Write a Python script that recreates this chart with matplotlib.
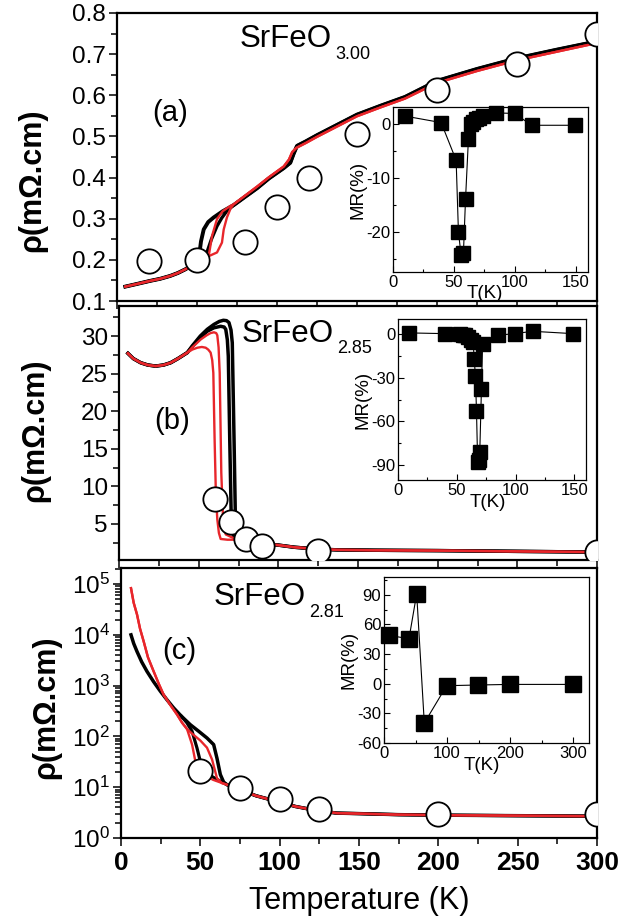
import numpy as np
import matplotlib
matplotlib.use('Agg')
import matplotlib.pyplot as plt
from matplotlib.ticker import MultipleLocator, LogLocator, NullFormatter

plt.rcParams['font.family'] = ['Liberation Sans', 'DejaVu Sans']
plt.rcParams['mathtext.fontset'] = 'custom'
plt.rcParams['mathtext.rm'] = 'Liberation Sans'
plt.rcParams['mathtext.default'] = 'regular'
plt.rcParams['axes.unicode_minus'] = False

RED = '#e8262b'

# ---------------- panel (a) SrFeO3.00 ----------------
Ta_circ = [20, 50, 80, 100, 120, 150, 200, 250, 300]
ra_circ = [0.198, 0.200, 0.243, 0.329, 0.398, 0.507, 0.612, 0.677, 0.748]

Ta_low = [5.2, 12, 20.8, 27, 33.3, 38, 42.7, 47, 50]
ra_low = [0.135, 0.141, 0.149, 0.154, 0.161, 0.168, 0.177, 0.187, 0.197]
# transitions (two black, two red sweeps)
Ta_blk1 = [51.5, 52.5, 54.2, 57, 60.4, 66]
ra_blk1 = [0.215, 0.245, 0.274, 0.292, 0.303, 0.318]
Ta_blk2 = [53, 56.2, 59, 62.5, 65.5, 68.7]
ra_blk2 = [0.205, 0.218, 0.250, 0.282, 0.302, 0.319]
Ta_red1 = [54, 57.3, 59.4, 62.5, 66, 70.8]
ra_red1 = [0.203, 0.209, 0.258, 0.299, 0.318, 0.331]
Ta_red2 = [56.2, 62.5, 65.6, 66.7, 68.7, 71]
ra_red2 = [0.207, 0.218, 0.242, 0.274, 0.303, 0.325]
Ta_blk_high = [72.9, 80, 87.5, 95, 104.2, 108.3, 110.4, 112.5, 118, 125, 133, 150, 165, 180, 200, 225, 250, 275, 300]
ra_blk_high = [0.333, 0.353, 0.374, 0.398, 0.423, 0.436, 0.458, 0.477, 0.488, 0.503, 0.519, 0.553, 0.575, 0.596, 0.635, 0.664, 0.690, 0.711, 0.731]
Ta_red_high = [72.9, 80, 87.5, 95, 104.2, 107.5, 109.5, 112, 118, 125, 133, 150, 165, 180, 200, 225, 250, 275, 300]
ra_red_high = [0.335, 0.356, 0.378, 0.401, 0.427, 0.444, 0.462, 0.472, 0.484, 0.499, 0.515, 0.549, 0.571, 0.592, 0.630, 0.659, 0.685, 0.706, 0.727]

Ta_in = [10.1, 39.5, 51.8, 53.7, 55.9, 57.8, 59.5, 61.9, 64.1, 65.5, 68.2, 70.9, 73.6, 84.6, 99.8, 113.7, 149.5]
MRa_in = [1.5, 0.3, -6.7, -20.1, -24.4, -23.9, -14.0, -2.7, 0.1, 0.4, 0.9, 1.2, 1.5, 2.1, 2.0, -0.2, -0.2]

# ---------------- panel (b) SrFeO2.85 ----------------
Tb_circ = [60, 70, 80, 90, 125, 300]
rb_circ = [8.3, 5.2, 3.0, 2.0, 1.45, 1.3]

Tb_low = [5.6, 9, 13.6, 18, 23, 28, 32.4, 37, 42.9]
rb_low = [27.7, 27.0, 26.45, 26.15, 26.0, 26.15, 26.45, 27.0, 27.8]
Tb_red1 = [46, 49.2, 52, 54.4, 56, 57.5, 58.5, 59.2, 60, 60.8, 61.7, 62.7, 63.8, 68, 73]
rb_red1 = [28.2, 28.45, 28.55, 28.45, 28.2, 27.8, 26.8, 25.1, 16.3, 9, 5.6, 3.8, 3.0, 2.9, 2.9]
Tb_red2 = [46, 51.3, 55, 57.5, 59.6, 61, 61.7, 62.5, 63.2, 64.2, 65.5, 67, 72]
rb_red2 = [28.5, 29.55, 30.1, 30.4, 30.5, 30.4, 30.1, 28.5, 25.1, 11.8, 4.7, 3.6, 3.1]
Tb_blk1 = [46, 51, 55.4, 59.6, 63.8, 66, 67, 68, 68.6, 69.5, 70.5, 71.8]
rb_blk1 = [28.6, 29.8, 30.65, 31.1, 31.3, 31.2, 30.9, 29.5, 27.3, 16.3, 5.2, 3.4]
Tb_blk2 = [46, 51, 55.4, 59.6, 63, 65.5, 67.5, 69, 70.3, 71.1, 72.2, 73.2, 74.3]
rb_blk2 = [28.7, 30.0, 30.9, 31.55, 31.95, 32.1, 32.05, 31.8, 30.8, 29.1, 16.3, 3.85, 3.0]
Tb_high = [78.4, 82.6, 90, 99.4, 110, 124.5, 137, 160, 200, 250, 300]
rb_high = [2.7, 2.45, 2.3, 2.2, 1.9, 1.65, 1.55, 1.5, 1.45, 1.35, 1.25]

Tb_in = [9.4, 39.8, 52.6, 55, 57, 59.5, 62, 64, 64.8, 65.9, 66.8, 67.8, 69.2, 69.6, 71, 72, 84.7, 99.4, 114.5, 149]
MRb_in = [0.5, 0, -0.3, -0.6, -1.1, -2.5, -4.5, -6, -17, -29, -53, -88, -86, -81, -38, -6.8, -1.1, 0, 1.6, 0]

# ---------------- panel (c) SrFeO2.81 ----------------
Tc_circ = [50, 75, 100, 125, 200, 300]
rc_circ = [21, 9.8, 5.8, 3.67, 2.93, 2.93]

Tc_red = [6.3, 8, 10.1, 12, 14.3, 17, 20.6, 24, 26.9, 31, 35.3, 38.5, 41.6]
rc_red = [83000, 42700, 25100, 13200, 7400, 3600, 1900, 1050, 660, 420, 270, 186, 140]
Tc_red1 = [44.8, 46.9, 49, 53, 58, 63]
rc_red1 = [69, 32, 24, 17, 14, 12.3]
Tc_red2 = [45, 50, 54.2, 57.4, 60.5, 63.6]
rc_red2 = [112, 83, 60, 35, 15, 12]
Tc_blk = [6.3, 8, 10.1, 13, 16.4, 20.5, 24.8, 29, 33.2, 38, 43.7, 49, 54.2, 58.4, 60.5, 62.6, 64.7]
rc_blk = [10000, 6760, 4680, 2950, 1900, 1200, 776, 525, 363, 251, 170, 126, 93, 69, 37, 17.8, 12.6]
Tc_blk2 = [38, 41.5, 44.8, 47.9, 50, 52.5, 55.3, 60, 64]
rc_blk2 = [251, 186, 126, 59, 32, 24, 17.8, 14.5, 12.5]
Tc_high = [66.8, 75.2, 85, 98.3, 110, 123.5, 136, 150, 175, 200, 250, 300]
rc_high = [11.2, 8.9, 6.8, 5.25, 4.17, 3.47, 3.09, 3.02, 2.88, 2.82, 2.75, 2.69]

Tc_in = [8.5, 39.6, 51.8, 63.9, 99.3, 149.5, 199.7, 300]
MRc_in = [48.9, 45.5, 91, -39.8, -2, -1.3, -0.7, -0.7]

W, H = 631, 916
fig = plt.figure(figsize=(W / 100, H / 100), dpi=100)


def rect(l, t, r, b):
    return [l / W, 1 - b / H, (r - l) / W, (b - t) / H]


def style_main(ax, labels_x):
    for s in ax.spines.values():
        s.set_linewidth(1.6)
    ax.set_xlim(0, 300)
    ax.xaxis.set_major_locator(MultipleLocator(50))
    ax.xaxis.set_minor_locator(MultipleLocator(25))
    ax.tick_params(which='both', direction='out', width=1.1, labelsize=17.5, pad=2)
    ax.tick_params(which='major', length=6)
    ax.tick_params(which='minor', length=4)
    if not labels_x:
        ax.tick_params(axis='x', labelbottom=False)
    ax.set_ylabel('ρ(mΩ.cm)', fontsize=22, fontweight='bold')


def style_inset(ax):
    for s in ax.spines.values():
        s.set_linewidth(0.9)
    ax.tick_params(which='both', direction='in', width=0.8, labelsize=12, pad=2)
    ax.tick_params(which='major', length=4)
    ax.tick_params(which='minor', length=2.5)
    ax.set_xlabel('T(K)', fontsize=13.5)
    ax.set_ylabel('MR(%)', fontsize=13.5, labelpad=0)


circ_kw = dict(marker='o', ls='none', ms=17.5, mfc='white', mec='black', mew=1.3, zorder=5)
sq_kw = dict(marker='s', color='black', ms=10, lw=0.8, clip_on=False)

# ---- (a)
ax = fig.add_axes(rect(117, 13, 597, 301))
ax.plot(Ta_low + Ta_blk1 + Ta_blk_high, ra_low + ra_blk1 + ra_blk_high, color='black', lw=2.8)
ax.plot(Ta_low + Ta_blk2 + Ta_blk_high, ra_low + ra_blk2 + ra_blk_high, color='black', lw=2.4)
ax.plot(Ta_low + Ta_red1 + Ta_red_high, ra_low + ra_red1 + ra_red_high, color=RED, lw=1.7)
ax.plot(Ta_low + Ta_red2 + Ta_red_high, ra_low + ra_red2 + ra_red_high, color=RED, lw=1.7)
ax.plot(Ta_circ, ra_circ, **circ_kw)
ax.set_ylim(0.1, 0.8)
ax.yaxis.set_major_locator(MultipleLocator(0.1))
ax.yaxis.set_minor_locator(MultipleLocator(0.05))
ax.yaxis.set_major_formatter(plt.FormatStrFormatter('%.1f'))
style_main(ax, False)
ax.yaxis.set_label_coords(-0.146, 0.42)

ia = fig.add_axes(rect(393, 107, 588, 272))
ia.plot(Ta_in, MRa_in, **sq_kw)
ia.set_xlim(0, 160)
ia.set_ylim(-27.5, 3.2)
ia.xaxis.set_major_locator(MultipleLocator(50))
ia.xaxis.set_minor_locator(MultipleLocator(25))
ia.yaxis.set_major_locator(MultipleLocator(10))
ia.yaxis.set_minor_locator(MultipleLocator(5))
style_inset(ia)
ia.xaxis.set_label_coords(0.47, -0.08)

# ---- (b)
bx = fig.add_axes(rect(119, 306, 597, 560))
bx.plot(Tb_low + Tb_blk1 + Tb_high, rb_low + rb_blk1 + rb_high, color='black', lw=2.5)
bx.plot(Tb_low + Tb_blk2 + Tb_high, rb_low + rb_blk2 + rb_high, color='black', lw=2.5)
bx.plot(Tb_low + Tb_red1 + Tb_high, rb_low + rb_red1 + rb_high, color=RED, lw=1.7)
bx.plot(Tb_low + Tb_red2 + Tb_high, rb_low + rb_red2 + rb_high, color=RED, lw=1.7)
bx.plot(Tb_circ, rb_circ, **circ_kw)
bx.set_ylim(0.2, 34)
bx.yaxis.set_major_locator(MultipleLocator(5))
bx.yaxis.set_minor_locator(MultipleLocator(2.5))
style_main(bx, False)
bx.yaxis.set_label_coords(-0.144, 0.51)

ib = fig.add_axes(rect(398, 319, 586, 480))
ib.plot(Tb_in, MRb_in, **sq_kw)
ib.set_xlim(0, 160)
ib.set_ylim(-100, 10)
ib.xaxis.set_major_locator(MultipleLocator(50))
ib.xaxis.set_minor_locator(MultipleLocator(25))
ib.yaxis.set_major_locator(MultipleLocator(30))
ib.yaxis.set_minor_locator(MultipleLocator(15))
style_inset(ib)
ib.xaxis.set_label_coords(0.48, -0.09)

# ---- (c)
cx = fig.add_axes(rect(121, 568, 597, 838))
cx.plot(Tc_blk + Tc_high, rc_blk + rc_high, color='black', lw=2.5)
cx.plot(Tc_blk2 + Tc_high, rc_blk2 + rc_high, color='black', lw=2.3)
cx.plot(Tc_red + Tc_red1 + Tc_high, rc_red + rc_red1 + rc_high, color=RED, lw=1.7)
cx.plot(Tc_red + Tc_red2 + Tc_high, rc_red + rc_red2 + rc_high, color=RED, lw=1.7)
cx.plot(Tc_circ, rc_circ, **circ_kw)
cx.set_yscale('log')
cx.set_ylim(1, 2.07e5)
cx.yaxis.set_major_locator(LogLocator(base=10, numticks=10))
cx.yaxis.set_minor_locator(LogLocator(base=10, subs=np.arange(2, 10), numticks=20))
cx.yaxis.set_minor_formatter(NullFormatter())
style_main(cx, True)
cx.yaxis.set_label_coords(-0.126, 0.485)
for t in cx.get_xticklabels():
    t.set_fontweight('bold')
cx.tick_params(axis='x', labelsize=19, pad=3)
cx.set_xlabel('Temperature (K)', fontsize=22, labelpad=8)

ic = fig.add_axes(rect(384, 577, 589, 743))
ic.plot(Tc_in, MRc_in, **dict(sq_kw, ms=11))
ic.set_xlim(0, 325)
ic.set_ylim(-60, 108)
ic.xaxis.set_major_locator(MultipleLocator(100))
ic.xaxis.set_minor_locator(MultipleLocator(50))
ic.yaxis.set_major_locator(MultipleLocator(30))
ic.yaxis.set_minor_locator(MultipleLocator(15))
style_inset(ic)
ic.xaxis.set_label_coords(0.477, -0.085)


# compound labels and panel letters
def fx(x):
    return x / W


def fy(y):
    return 1 - y / H


fig.canvas.draw()
renderer = fig.canvas.get_renderer()
for (x0, yb, ysb, sub) in [(240, 47, 59, '3.00'), (242, 342, 353, '2.85'), (214, 605, 617, '2.81')]:
    t = fig.text(fx(x0), fy(yb), 'SrFeO', fontsize=22.5, va='baseline', ha='left')
    x_end = t.get_window_extent(renderer).x1
    fig.text((x_end + 3) / W, fy(ysb), sub, fontsize=13, va='baseline', ha='left')

for (x0, yc, lab) in [(152, 113, '(a)'), (154, 421, '(b)'), (162, 651, '(c)')]:
    fig.text(fx(x0), fy(yc), lab, fontsize=21, va='center', ha='left')

fig.savefig('out.png', dpi=100)
